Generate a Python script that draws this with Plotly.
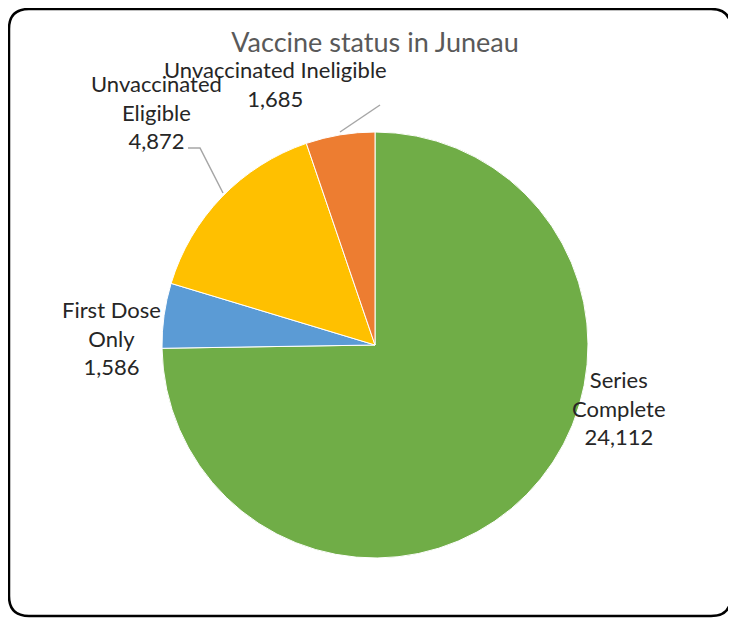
import plotly.graph_objects as go

categories = ["Series Complete", "First Dose Only", "Unvaccinated Eligible", "Unvaccinated Ineligible"]
values = [24112, 1586, 4872, 1685]
colors = ["#70AD47", "#5B9BD5", "#FFC000", "#ED7D31"]
label_lines = [["Series", "Complete"], ["First Dose", "Only"], ["Unvaccinated", "Eligible"], ["Unvaccinated Ineligible"]]

W, H = 736, 618
OFF = 8  # page body margin
def px(x):
    return (x - OFF) / W
def py(y):
    return 1 - (y - OFF) / H

fig = go.Figure(go.Pie(
    labels=categories, values=values, sort=False, direction="clockwise", rotation=0,
    marker=dict(colors=colors, line=dict(color="white", width=1)),
    textinfo="none", showlegend=False,
    domain=dict(x=[px(162), px(588)], y=[py(558), py(132)]),
))

label_pos = [(619, 408), (111, 338), (156, 112), (275, 84)]
font = dict(family="Lato, Liberation Sans, sans-serif", size=22, color="#262626")
anns = []
for lines, v, (x, y) in zip(label_lines, values, label_pos):
    text = "<br>".join(lines + [f"{v:,}"])
    anns.append(dict(x=px(x), y=py(y), xref="paper", yref="paper", text=text, showarrow=False,
                     xanchor="center", yanchor="middle", align="center", font=font))

# rounded border
x0, y0, x1, y1, r = 9, 9, 731, 616, 20
def P(x, y):
    return f"{px(x)},{py(y)}"
path = (f"M {P(x0+r,y0)} L {P(x1-r,y0)} Q {P(x1,y0)} {P(x1,y0+r)} L {P(x1,y1-r)} Q {P(x1,y1)} {P(x1-r,y1)} "
        f"L {P(x0+r,y1)} Q {P(x0,y1)} {P(x0,y1-r)} L {P(x0,y0+r)} Q {P(x0,y0)} {P(x0+r,y0)} Z")
shapes = [
    dict(type="path", xref="paper", yref="paper", path=path, line=dict(color="black", width=2.5)),
    dict(type="path", xref="paper", yref="paper",
         path=f"M {P(188,148)} L {P(200,148)} L {P(223,193)}", line=dict(color="#A6A6A6", width=1.5)),
    dict(type="path", xref="paper", yref="paper",
         path=f"M {P(380,105)} L {P(340,132)}", line=dict(color="#A6A6A6", width=1.5)),
]

fig.update_layout(
    width=W, height=H, margin=dict(l=0, r=0, t=0, b=0),
    paper_bgcolor="white", plot_bgcolor="white",
    title=dict(text="Vaccine status in Juneau", x=px(375), y=py(43), xanchor="center", yanchor="middle",
               font=dict(family="Lato, Liberation Sans, sans-serif", size=27, color="#595959")),
    annotations=anns, shapes=shapes,
)
fig.write_html("out.html")
